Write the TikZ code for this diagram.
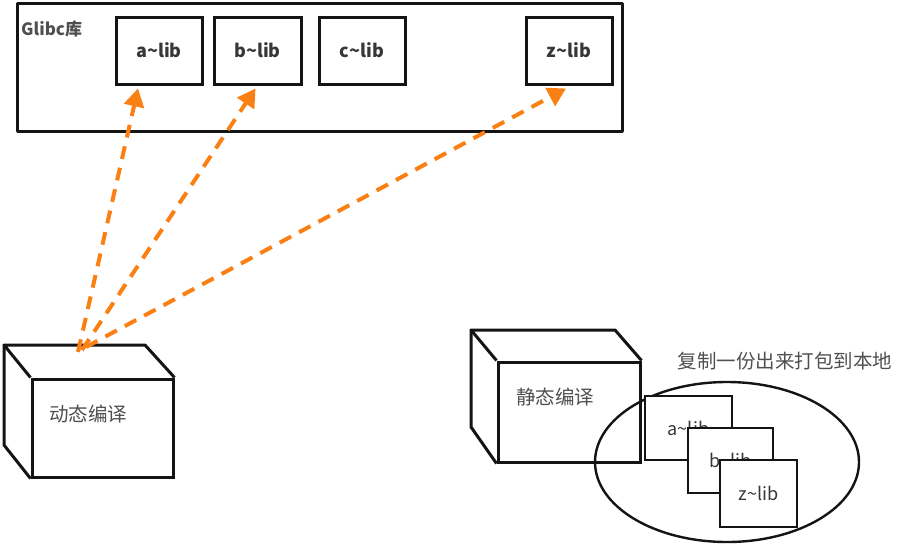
\documentclass[tikz,border=0pt]{standalone}
\usepackage{fontspec}
\setmainfont{Noto Sans CJK SC}
\usetikzlibrary{arrows.meta,shapes.geometric}
\definecolor{arr}{RGB}{250,128,20}
\definecolor{ink}{RGB}{20,20,20}
\tikzset{
  libbox/.style={draw=ink, line width=3pt, fill=white, rectangle, inner sep=0pt, font=\fontsize{18}{20}\selectfont\bfseries, text=ink!85},
  frame/.style={draw=ink, line width=3pt, line join=round},
  cubeface/.style={draw=ink, line width=3pt, fill=white, rectangle, inner sep=0pt},
  dep/.style={draw=arr, line width=4pt, dash pattern=on 13pt off 9pt, -{Triangle[length=18pt,width=20pt]}},
  lbl/.style={font=\fontsize{19.5}{22}\selectfont, text=ink!75, inner sep=0pt}
}
\begin{document}
\begin{tikzpicture}[x=1pt,y=-1pt]
\useasboundingbox (0,0) rectangle (912,544);
% Glibc frame
\node[frame, rectangle, minimum width=605pt, minimum height=128pt, inner sep=0pt] (glibc) at (319.5,67) {};
\node[lbl, anchor=west, font=\fontsize{17}{19}\selectfont\bfseries] (glibclbl) at (21,29) {Glibc库};
\node[libbox, minimum width=86pt, minimum height=67pt] (a) at (159,50.5) {a\textasciitilde lib};
\node[libbox, minimum width=87pt, minimum height=67pt] (b) at (257.5,50.5) {b\textasciitilde lib};
\node[libbox, minimum width=86pt, minimum height=67pt] (c) at (362,50.5) {c\textasciitilde lib};
\node[libbox, minimum width=86pt, minimum height=67pt] (z) at (569,50.5) {z\textasciitilde lib};
% dynamic cube
\coordinate (dbtl) at (4,345);
\coordinate (dbtr) at (145,345);
\coordinate (dbbl) at (4,445);
\node[cubeface, minimum width=141pt, minimum height=98pt] (dyn) at (102.5,428) {};
\node[lbl] (dynlbl) at (88,414) {动态编译};
\draw[frame] (dyn.north west) -- (dbtl) -- (dbtr) -- (dyn.north east);
\draw[frame] (dbtl) -- (dbbl) -- (dyn.south west);
% arrows
\coordinate (s1) at (78,352);
\coordinate (s2) at (82,350);
\coordinate (s3) at (86,347);
\draw[dep] (s1) -- ([xshift=-21pt,yshift=-3pt]a.south);
\draw[dep] (s2) -- ([xshift=-2pt,yshift=-3pt]b.south);
\draw[dep] (s3) -- ([xshift=-3pt,yshift=-3pt]z.south);
% static cube
\coordinate (sbtl) at (471,330);
\coordinate (sbtr) at (615,330);
\coordinate (sbbl) at (471,427);
\node[cubeface, minimum width=142pt, minimum height=100pt] (sta) at (569,412) {};
\node[lbl] (stalbl) at (555,397) {静态编译};
\draw[frame] (sta.north west) -- (sbtl) -- (sbtr) -- (sta.north east);
\draw[frame] (sbtl) -- (sbbl) -- (sta.south west);
% ellipse
\node[draw=ink, line width=2.4pt, ellipse, minimum width=264pt, minimum height=160pt, inner sep=0pt] (pkg) at (727,462) {};
\node[lbl] (copylbl) at (785,361) {复制一份出来打包到本地};
% copies
\node[libbox, line width=2.6pt, minimum width=87pt, minimum height=64pt, font=\fontsize{18}{20}\selectfont] (ca) at (688.5,428) {a\textasciitilde lib};
\node[libbox, line width=2.6pt, minimum width=85pt, minimum height=65pt, font=\fontsize{18}{20}\selectfont] (cb) at (730.5,460.5) {b\textasciitilde lib};
\node[libbox, line width=2.6pt, minimum width=77pt, minimum height=67pt, font=\fontsize{18}{20}\selectfont] (cz) at (758.5,493.5) {z\textasciitilde lib};
\end{tikzpicture}
\end{document}
